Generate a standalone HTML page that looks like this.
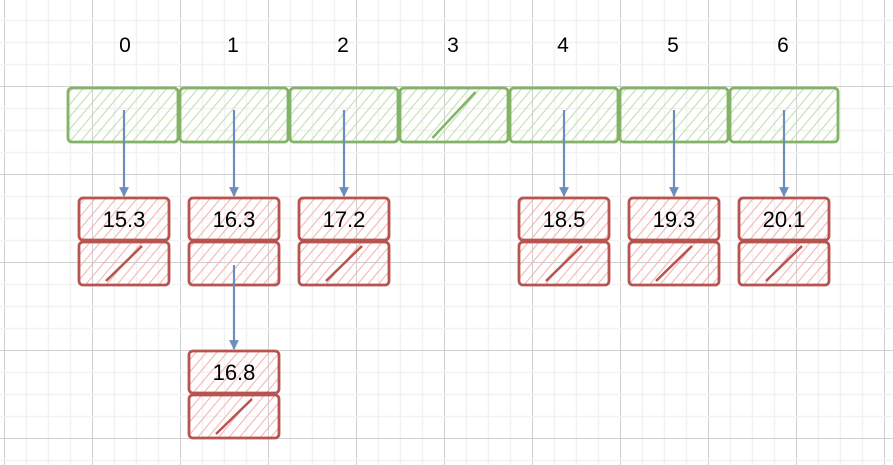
<!DOCTYPE html>
<html><head><meta charset="utf-8"><style>
html,body{margin:0;padding:0;background:#fff}
svg{display:block}
text{font-family:"Liberation Sans",sans-serif}
</style></head><body>
<svg id="s" width="893" height="465" viewBox="0 0 893 465" xmlns="http://www.w3.org/2000/svg">
<defs>
<pattern id="hg" width="8" height="8" patternUnits="userSpaceOnUse" patternTransform="rotate(40)"><line x1="0" y1="0" x2="0" y2="8" stroke="#c2e0b0" stroke-width="2.2"/></pattern>
<pattern id="hr" width="8" height="8" patternUnits="userSpaceOnUse" patternTransform="rotate(40)"><line x1="0" y1="0" x2="0" y2="8" stroke="#f5b5b3" stroke-width="2.2"/></pattern>
<marker id="ah" viewBox="0 0 10 10" refX="9" refY="5" markerWidth="4.5" markerHeight="5" orient="auto"><path d="M0,0 L10,5 L0,10 Z" fill="#6c8ebf"/></marker>
</defs>
<g id="grid"></g>
<g id="main"></g>
</svg>
<script>
const buckets = ["0","1","2","3","4","5","6"];
const values = ["15.3","16.3","17.2",null,"18.5","19.3","20.1"];
const chain = [null,"16.8",null,null,null,null,null];

const NS="http://www.w3.org/2000/svg";
const grid=document.getElementById('grid');
const main=document.getElementById('main');
function mk(t,a,p){const e=document.createElementNS(NS,t);for(const k in a)e.setAttribute(k,a[k]);(p||main).appendChild(e);return e;}
for(let x=4.5-88;x<893;x+=22){const major=Math.round((x-4.5)/22)%4===0;
 const l=mk('line',{x1:x,y1:0,x2:x,y2:465,stroke:major?'#d0d0d0':'#f2f2f2','stroke-width':major?1:1.5},grid);
 
 }
for(let y=350.5-88*4;y<465;y+=22){const major=Math.round((y-350.5)/22)%4===0;
 const l=mk('line',{x1:0,y1:y,x2:893,y2:y,stroke:major?'#d0d0d0':'#f2f2f2','stroke-width':major?1:1.5},grid);
 
 }

const x0=68, cw=110, gy=88, gh=54;
function box(x,y,w,h,fill,stroke,name){
 const r=mk('rect',{x:x,y:y,width:w,height:h,rx:4,fill:fill,stroke:stroke,'stroke-width':2.8});
 
 
 return r;}
function slash(x,y,w,h,stroke){mk('line',{x1:x+w*0.3,y1:y+h-4,x2:x+w*0.7,y2:y+4,stroke:stroke,'stroke-width':2.5});}
function txt(x,y,s,name,size){const t=mk('text',{x:x,y:y,'text-anchor':'middle','font-size':size||22,fill:'#000'});t.textContent=s;
 
 }
function arrow(x,y1,y2){const a=mk('line',{x1:x,y1:y1,x2:x,y2:y2,stroke:'#6c8ebf','stroke-width':2.2,'marker-end':'url(#ah)'});
 
 }
function node(cx,y,val,hasNext,name){
 const w=90,x=cx-45;
 box(x,y,w,42,'url(#hr)','#b85450',name+'-value-cell');
 box(x,y+44,w,43,'url(#hr)','#b85450',name+'-next-cell');
 txt(cx,y+29,val,name+'-value');
 if(!hasNext) slash(x,y+44,w,43,'#b85450');
}
buckets.forEach((b,i)=>{
 const x=x0+i*cw+(i>0?2:0), w=cw-(i>0?2:0);
 const cx=x0+i*cw+cw/2+(i===0?2:0);
 txt(cx,52,b,'bucket-index-'+b,21);
 box(x,gy,w,gh,'url(#hg)','#82b366','bucket-cell-'+b);
 if(values[i]===null){slash(x,gy,w,gh,'#82b366');}
 else{
  const ncx=x0+i*cw+56;
  arrow(ncx,110,196);
  node(ncx,198,values[i],chain[i]!==null,'node-'+b);
  if(chain[i]!==null){arrow(ncx,265,349);node(ncx,351,chain[i],false,'chain-node-'+b);}
 }
});
</script>
</body></html>
